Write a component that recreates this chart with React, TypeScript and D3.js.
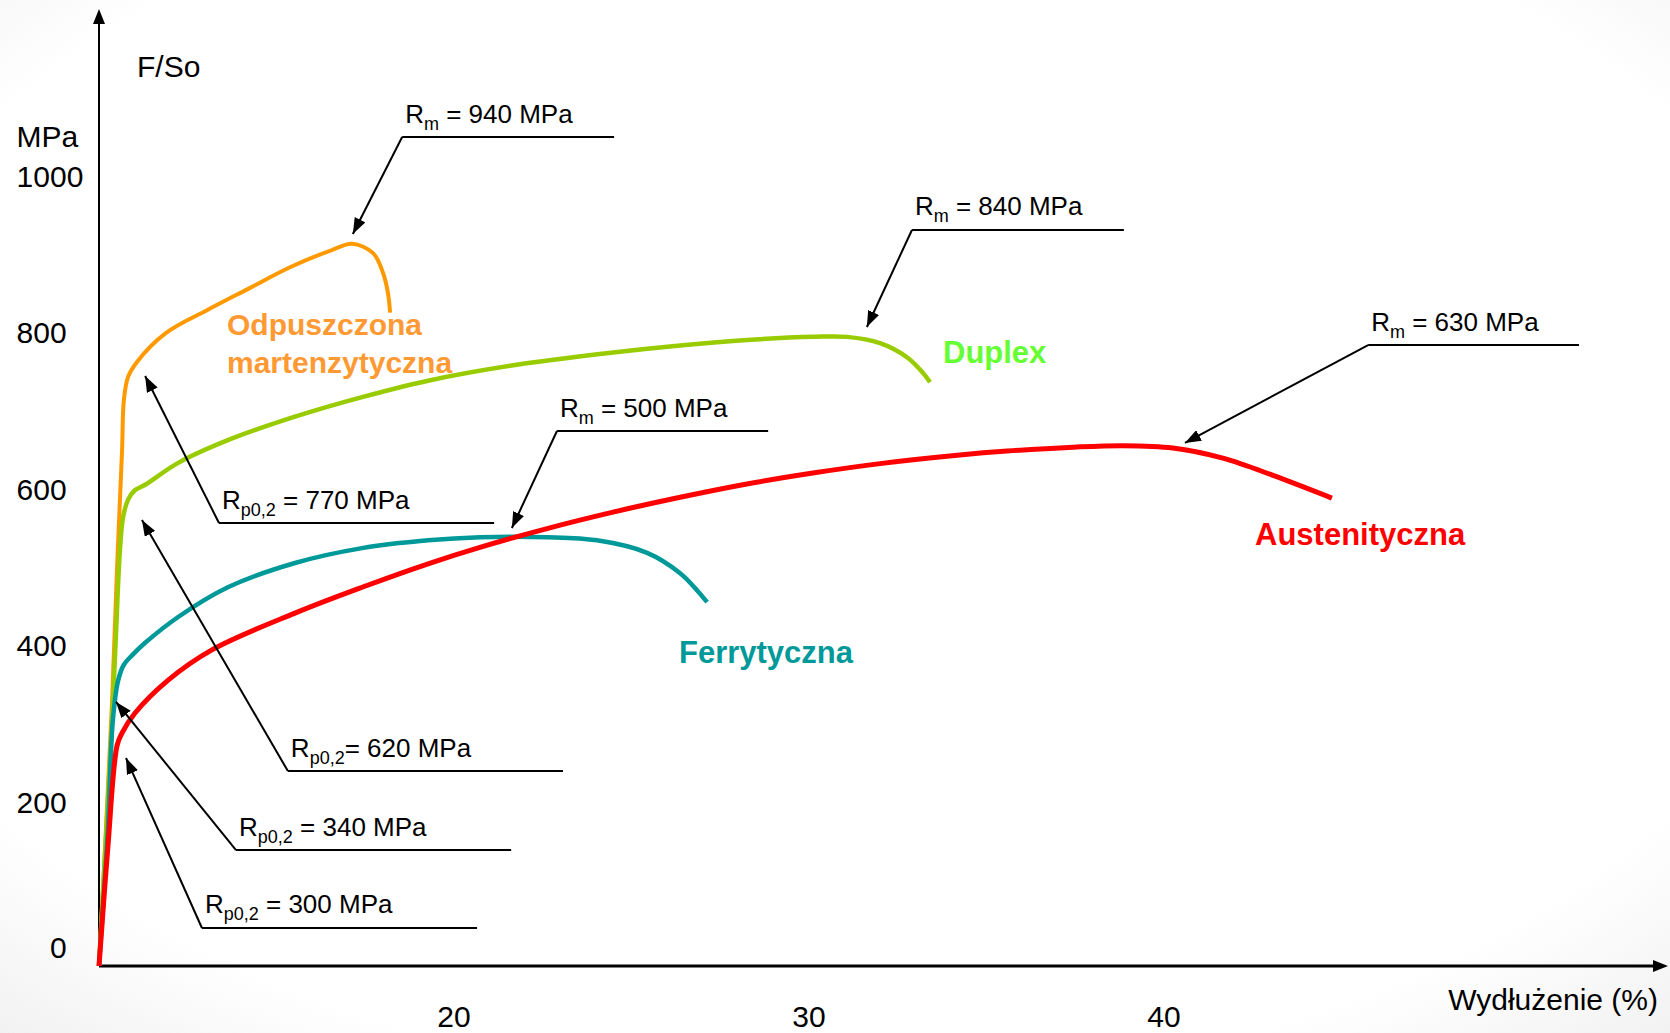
import React from 'react';
import * as d3 from 'd3';

const W = 1670;
const H = 1033;

// Curves: strain (%) and stress (MPa)
const martStrain = [10.0, 10.37, 10.51, 10.65, 10.7, 10.82, 11.07, 11.89, 13.04, 14.23, 15.38, 16.56, 17.13, 17.72, 18.0, 18.14, 18.2];
const martStress = [0, 340, 510, 659, 723, 753, 772, 809, 838, 866, 893, 915, 923, 911, 886, 860, 835];

const duplexStrain = [10.0, 10.37, 10.48, 10.59, 10.68, 10.82, 11.01, 11.3, 12.23, 13.63, 15.52, 17.41, 19.27, 21.72, 24.48, 26.37, 28.25, 30.11, 31.07, 32.0, 32.76, 33.21, 33.41];
const duplexStress = [0, 314, 426, 532, 574, 596, 608, 615, 643, 672, 702, 727, 748, 768, 784, 793, 800, 804, 804, 796, 778, 758, 746];

const ferrStrain = [10.0, 10.25, 10.39, 10.54, 10.7, 10.93, 11.3, 12.23, 13.63, 15.52, 17.41, 19.27, 20.73, 22.62, 24.03, 25.44, 26.37, 26.85, 27.13];
const ferrStress = [0, 174, 314, 365, 385, 397, 413, 446, 484, 515, 534, 544, 548, 548, 544, 528, 502, 480, 465];

const austStrain = [10.0, 10.25, 10.51, 10.65, 11.01, 11.94, 13.18, 15.52, 17.41, 19.27, 20.73, 22.62, 24.48, 26.37, 28.25, 30.11, 32.0, 34.25, 35.58, 37.44, 38.85, 40.25, 41.66, 43.07, 44.73];
const austStress = [0, 152, 282, 298, 323, 365, 404, 451, 484, 514, 535, 559, 580, 599, 616, 630, 642, 653, 658, 663, 665, 662, 649, 627, 598];

const yTicks = [0, 200, 400, 600, 800, 1000];
const xTicks = [20, 30, 40];

// Annotation texts
const annMain = ['R', 'R', 'R', 'R', 'R', 'R', 'R', 'R'];
const annSub = ['m', 'm', 'm', 'm', 'p0,2', 'p0,2', 'p0,2', 'p0,2'];
const annRest = [' = 940 MPa', ' = 840 MPa', ' = 630 MPa', ' = 500 MPa', ' = 770 MPa', '= 620 MPa', ' = 340 MPa', ' = 300 MPa'];
// Annotation anchors in data units: arrow tip (strain, stress), leader corner, leader end strain
const annTipX = [17.15, 31.63, 40.59, 21.63, 11.3, 11.21, 10.48, 10.76];
const annTipY = [935.5, 816.6, 668.4, 559.7, 754, 570, 337.4, 265.8];
const annCornerX = [18.54, 32.9, 45.75, 22.9, 13.38, 15.32, 13.86, 12.9];
const annCornerY = [1059.4, 940.6, 793.6, 683.7, 566.1, 249.2, 148.2, 48.6];
const annEndX = [24.51, 38.87, 51.69, 28.85, 21.13, 23.07, 21.61, 20.65];

const FONT = "'Liberation Sans', Arial, Helvetica, sans-serif";

const xScale = d3.scaleLinear().domain([10, 40]).range([99, 1164]);
const yScale = d3.scaleLinear().domain([0, 1000]).range([966, 183.5]);

const zip = (xs: number[], ys: number[]) => xs.map((x, i) => [x, ys[i]] as [number, number]);

const series = [
  { name: 'mart', pts: zip(martStrain, martStress), color: '#FF9900', w: 4 },
  { name: 'duplex', pts: zip(duplexStrain, duplexStress), color: '#99CC00', w: 4.5 },
  { name: 'ferr', pts: zip(ferrStrain, ferrStress), color: '#009999', w: 4.5 },
  { name: 'aust', pts: zip(austStrain, austStress), color: '#FF0000', w: 5 },
];

export default function App() {
  const line = d3
    .line<[number, number]>()
    .x((d) => xScale(d[0]))
    .y((d) => yScale(d[1]))
    .curve(d3.curveCatmullRom.alpha(0.5));

  const x0 = xScale(10);
  const y0 = yScale(0);
  const xEnd = 1668;
  const yTop = 9;

  return (
    <svg
      width={W}
      height={H}
      viewBox={`0 0 ${W} ${H}`}
      style={{ position: 'absolute', left: 0, top: 0, background: '#ffffff' }}
      fontFamily={FONT}
    >
      <defs>
        <marker id="arr" viewBox="0 0 16 12" refX="16" refY="6" markerWidth="16" markerHeight="12" markerUnits="userSpaceOnUse" orient="auto">
          <path d="M0,0 L16,6 L0,12 z" fill="#000" />
        </marker>
        <radialGradient id="bg" cx="0.5" cy="0.45" r="0.75">
          <stop offset="0.8" stopColor="#ffffff" />
          <stop offset="1" stopColor="#f1f1f1" />
        </radialGradient>
      </defs>
      <rect x={0} y={0} width={W} height={H} fill="url(#bg)" />

      {/* axes */}
      <line x1={x0} y1={y0} x2={x0} y2={yTop + 14} stroke="#000" strokeWidth={2} />
      <path d={`M${x0 - 6},${yTop + 15} L${x0},${yTop} L${x0 + 6},${yTop + 15} z`} fill="#000" />
      <line x1={x0} y1={y0} x2={xEnd - 14} y2={y0} stroke="#000" strokeWidth={3} />
      <path d={`M${xEnd - 15},${y0 - 6} L${xEnd},${y0} L${xEnd - 15},${y0 + 6} z`} fill="#000" />

      {/* y tick labels */}
      {yTicks.map((v) => (
        <text key={v} x={16.6} y={yScale(v) + 3 - (v === 0 ? 11 : 0)} fontSize={30} fill="#000">
          {v === 0 ? '\u2007\u20070' : String(v)}
        </text>
      ))}
      <text x={16.6} y={147} fontSize={30} fill="#000">MPa</text>
      <text x={137} y={77} fontSize={30} fill="#000">F/So</text>

      {/* x tick labels */}
      {xTicks.map((v) => (
        <text key={v} x={xScale(v)} y={1027} fontSize={30} textAnchor="middle" fill="#000">
          {String(v)}
        </text>
      ))}
      <text x={1658} y={1010} fontSize={30} textAnchor="end" fill="#000">Wydłużenie (%)</text>

      {/* curves */}
      {series.map((s) => (
        <path key={s.name} d={line(s.pts) || ''} fill="none" stroke={s.color} strokeWidth={s.w} strokeLinejoin="round" strokeLinecap="butt" />
      ))}

      {/* curve labels */}
      <text x={227} y={335} fontSize={30} fontWeight="bold" fill="#FF9933">Odpuszczona</text>
      <text x={227} y={373} fontSize={30} fontWeight="bold" fill="#FF9933">martenzytyczna</text>
      <text x={943} y={363} fontSize={31} fontWeight="bold" fill="#66FF33">Duplex</text>
      <text x={679} y={663} fontSize={31} fontWeight="bold" fill="#009999">Ferrytyczna</text>
      <text x={1255} y={545} fontSize={31} fontWeight="bold" fill="#FF0000">Austenityczna</text>

      {/* annotations */}
      {annMain.map((m, i) => {
        const tx = xScale(annTipX[i]);
        const ty = yScale(annTipY[i]);
        const cx = xScale(annCornerX[i]);
        const cy = yScale(annCornerY[i]);
        const ex = xScale(annEndX[i]);
        return (
          <g key={i}>
            <line x1={cx} y1={cy} x2={ex} y2={cy} stroke="#000" strokeWidth={2} />
            <line x1={cx} y1={cy} x2={tx} y2={ty} stroke="#000" strokeWidth={2} markerEnd="url(#arr)" />
            <text x={cx + 3} y={cy - 14.5} fontSize={26} fill="#000">
              {m}
              <tspan fontSize={18} dy={7}>{annSub[i]}</tspan>
              <tspan dy={-7}>{annRest[i]}</tspan>
            </text>
          </g>
        );
      })}
    </svg>
  );
}
